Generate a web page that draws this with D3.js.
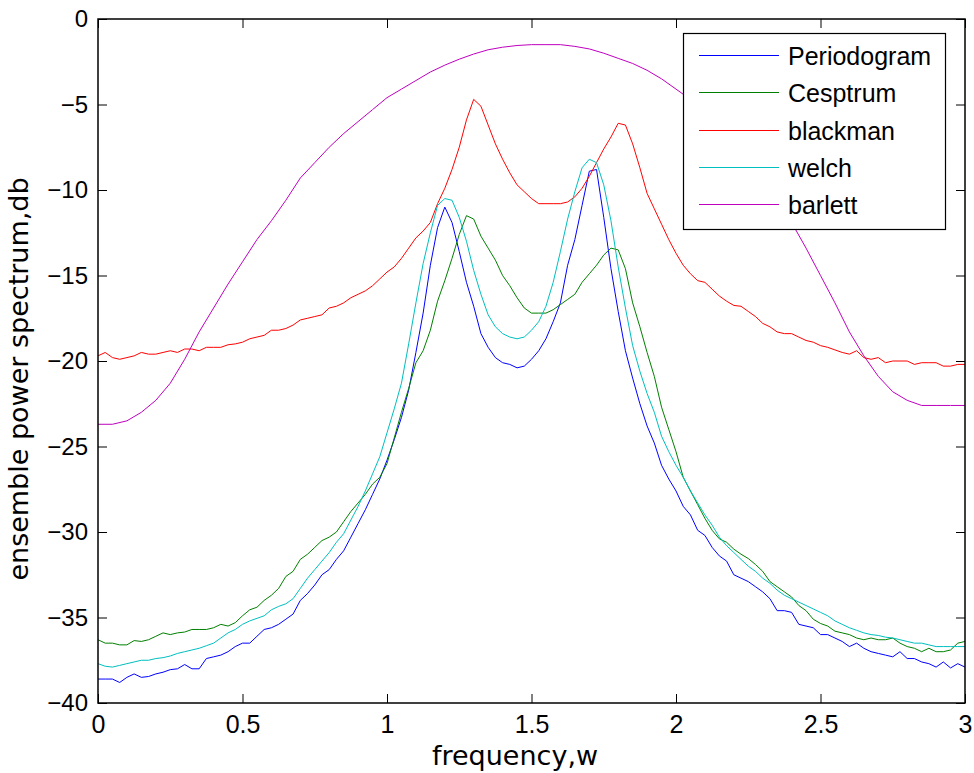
<!DOCTYPE html>
<html>
<head>
<meta charset="utf-8">
<script src="https://cdn.jsdelivr.net/npm/d3@7"></script>
<style>
  html, body { margin: 0; padding: 0; background: #fff; }
  svg { display: block; }
  text { font-family: "Liberation Sans", Arial, Helvetica, sans-serif; fill: #000; }
</style>
</head>
<body>
<div id="chart"></div>
<script>
// ---------------- data ----------------
const freqStep = 0.025;
const freq = d3.range(0, 3 + freqStep / 2, freqStep);          // 121 frequency samples
const freqCoarse = d3.range(0, 3 + 0.05 / 2, 0.05);            // 61 samples for barlett

const periodogram = [
  -38.6,-38.6,-38.6,-38.8,-38.5,-38.3,-38.5,-38.45,-38.3,-38.2,
  -38.05,-38.0,-37.75,-38.0,-38.0,-37.4,-37.3,-37.2,-37.0,-36.7,
  -36.5,-36.5,-36.1,-35.7,-35.6,-35.4,-35.1,-34.8,-34.0,-33.6,
  -33.1,-32.5,-32.2,-31.6,-31.1,-30.3,-29.5,-28.7,-27.8,-26.9,
  -25.8,-24.6,-23.3,-21.7,-19.5,-17.2,-14.4,-12.2,-11.0,-11.9,
  -13.6,-15.4,-16.8,-18.4,-19.2,-19.8,-20.1,-20.2,-20.4,-20.3,
  -19.9,-19.4,-18.7,-17.7,-16.6,-14.4,-12.9,-10.9,-8.9,-8.8,
  -11.6,-14.6,-17.1,-19.4,-21.0,-22.5,-23.8,-24.8,-26.1,-26.9,
  -27.6,-28.5,-29.0,-29.9,-30.2,-30.9,-31.4,-31.7,-32.5,-32.7,
  -32.9,-33.2,-33.5,-33.9,-34.6,-34.6,-34.7,-35.4,-35.5,-35.6,
  -36.0,-36.0,-36.2,-36.4,-36.7,-36.5,-36.8,-37.0,-37.1,-37.2,
  -37.3,-37.0,-37.4,-37.4,-37.6,-37.7,-37.9,-37.6,-37.95,-37.7,
  -37.9
];

const cesptrum = [
  -36.3,-36.5,-36.5,-36.6,-36.6,-36.35,-36.4,-36.3,-36.1,-35.9,
  -36.0,-35.9,-35.85,-35.7,-35.7,-35.7,-35.6,-35.4,-35.5,-35.3,
  -34.9,-34.55,-34.4,-34.0,-33.7,-33.3,-32.6,-32.3,-31.6,-31.3,
  -30.9,-30.5,-30.3,-30.0,-29.4,-28.8,-28.3,-27.8,-27.2,-26.8,
  -26.0,-24.5,-23.0,-21.6,-20.1,-19.4,-18.2,-16.5,-15.3,-14.0,
  -12.6,-11.5,-11.7,-12.7,-13.4,-14.1,-15.0,-15.6,-16.3,-16.9,
  -17.2,-17.2,-17.2,-17.0,-16.7,-16.4,-16.1,-15.4,-14.9,-14.4,
  -13.8,-13.4,-13.5,-14.6,-16.6,-18.0,-19.5,-20.9,-22.7,-24.0,
  -25.3,-26.8,-27.6,-28.4,-29.2,-29.9,-30.4,-30.6,-31.0,-31.3,
  -31.55,-31.9,-32.3,-32.9,-33.2,-33.5,-33.8,-34.3,-34.6,-35.1,
  -35.35,-35.5,-35.8,-35.9,-36.0,-36.2,-36.3,-36.2,-36.3,-36.3,
  -36.2,-36.5,-36.7,-36.8,-37.0,-36.8,-37.0,-37.0,-36.9,-36.5,
  -36.4
];

const blackman = [
  -19.7,-19.5,-19.8,-19.9,-19.8,-19.7,-19.5,-19.6,-19.6,-19.5,
  -19.4,-19.5,-19.3,-19.3,-19.4,-19.2,-19.2,-19.2,-19.05,-19.0,
  -18.9,-18.7,-18.6,-18.5,-18.2,-18.2,-18.1,-17.9,-17.6,-17.5,
  -17.4,-17.3,-16.9,-16.8,-16.6,-16.3,-16.1,-15.9,-15.6,-15.2,
  -14.8,-14.5,-14.0,-13.4,-12.8,-12.4,-11.9,-10.8,-9.9,-8.8,
  -7.5,-5.9,-4.7,-5.1,-6.2,-7.3,-8.2,-9.0,-9.7,-10.1,
  -10.5,-10.8,-10.8,-10.8,-10.8,-10.7,-10.4,-9.9,-9.2,-8.4,
  -7.6,-6.9,-6.1,-6.2,-7.3,-8.7,-10.2,-11.1,-12.0,-12.9,
  -13.7,-14.4,-14.9,-15.3,-15.4,-15.8,-16.2,-16.5,-16.75,-16.8,
  -17.1,-17.4,-17.8,-18.0,-18.3,-18.4,-18.4,-18.6,-18.8,-18.9,
  -19.1,-19.2,-19.35,-19.5,-19.6,-19.4,-19.8,-19.9,-19.8,-20.1,
  -20.0,-20.0,-20.0,-20.2,-20.1,-20.1,-20.1,-20.3,-20.3,-20.2,
  -20.2
];

const welch = [
  -37.7,-37.85,-37.9,-37.8,-37.7,-37.6,-37.5,-37.5,-37.4,-37.35,
  -37.25,-37.1,-37.0,-36.9,-36.8,-36.65,-36.5,-36.2,-35.9,-35.7,
  -35.4,-35.2,-35.05,-34.9,-34.55,-34.35,-34.2,-33.9,-33.3,-32.7,
  -32.2,-31.7,-31.2,-30.6,-30.1,-29.3,-28.5,-27.6,-26.6,-25.6,
  -24.2,-22.8,-21.3,-19.0,-16.6,-14.3,-12.5,-10.9,-10.5,-10.6,
  -11.6,-13.0,-14.7,-16.1,-17.3,-18.0,-18.4,-18.6,-18.7,-18.6,
  -18.2,-17.7,-16.8,-15.4,-13.6,-11.7,-10.1,-8.7,-8.2,-8.4,
  -9.7,-11.8,-14.5,-16.9,-19.1,-20.6,-21.9,-23.0,-24.4,-25.3,
  -26.1,-26.8,-27.6,-28.3,-29.0,-29.6,-30.3,-30.8,-31.2,-31.6,
  -32.0,-32.3,-32.7,-33.0,-33.4,-33.7,-33.9,-34.1,-34.3,-34.5,
  -34.7,-34.9,-35.2,-35.4,-35.6,-35.75,-35.9,-36.0,-36.05,-36.15,
  -36.2,-36.3,-36.4,-36.5,-36.5,-36.6,-36.7,-36.7,-36.7,-36.7,
  -36.7
];

const barlett = [
  -23.7,-23.7,-23.5,-23.0,-22.3,-21.3,-19.9,-18.3,-16.9,-15.5,
  -14.2,-12.9,-11.8,-10.6,-9.3,-8.4,-7.5,-6.7,-6.0,-5.3,
  -4.6,-4.1,-3.6,-3.1,-2.7,-2.35,-2.05,-1.8,-1.65,-1.55,
  -1.5,-1.5,-1.5,-1.6,-1.75,-2.0,-2.3,-2.6,-3.0,-3.5,
  -4.1,-4.7,-5.4,-6.1,-7.0,-8.0,-9.1,-10.4,-11.9,-13.4,
  -15.0,-16.6,-18.3,-19.7,-20.9,-21.8,-22.3,-22.6,-22.6,-22.6,
  -22.6
];

const seriesNames = ["Periodogram", "Cesptrum", "blackman", "welch", "barlett"];
const seriesColors = ["#0000ff", "#008000", "#ff0000", "#00bfbf", "#bf00bf"];

const xTicks = [0, 0.5, 1, 1.5, 2, 2.5, 3];
const yTicks = [0, -5, -10, -15, -20, -25, -30, -35, -40];
const xLabel = "frequency,w";
const yLabel = "ensemble power spectrum,db";

// ---------------- chart ----------------
const W = 974, H = 773;
const M = { left: 98, right: 974 - 965, top: 19, bottom: 773 - 703 };

const svg = d3.select("#chart").append("svg")
  .attr("width", W).attr("height", H);

const x = d3.scaleLinear().domain([0, 3]).range([M.left, W - M.right]);
const y = d3.scaleLinear().domain([-40, 0]).range([H - M.bottom, M.top]);

svg.append("rect").attr("width", W).attr("height", H).attr("fill", "#fff");

const plotData = [
  { name: seriesNames[0], xs: freq, ys: periodogram, color: seriesColors[0] },
  { name: seriesNames[1], xs: freq, ys: cesptrum, color: seriesColors[1] },
  { name: seriesNames[2], xs: freq, ys: blackman, color: seriesColors[2] },
  { name: seriesNames[3], xs: freq, ys: welch, color: seriesColors[3] },
  { name: seriesNames[4], xs: freqCoarse, ys: barlett, color: seriesColors[4] }
];

svg.append("defs").append("clipPath").attr("id", "clip")
  .append("rect")
  .attr("x", M.left).attr("y", M.top)
  .attr("width", W - M.left - M.right).attr("height", H - M.top - M.bottom);

const line = d3.line().x(d => x(d[0])).y(d => y(d[1]));

svg.append("g").attr("clip-path", "url(#clip)")
  .selectAll("path").data(plotData).join("path")
  .attr("d", s => line(s.xs.map((v, i) => [v, s.ys[i]])))
  .attr("fill", "none")
  .attr("stroke", s => s.color)
  .attr("stroke-width", 1)
  .attr("stroke-linejoin", "round");

// axes (ticks pointing inward, MATLAB box style)
const tickLen = 9;
const fmt = d => d3.format("")(d);

const gx = svg.append("g").attr("transform", `translate(0,${H - M.bottom})`)
  .call(d3.axisBottom(x).tickValues(xTicks).tickSizeInner(-tickLen).tickSizeOuter(0)
    .tickPadding(12).tickFormat(fmt));
gx.selectAll("text").style("font-size", "25px").attr("dy", "0.71em");

const gxTop = svg.append("g").attr("transform", `translate(0,${M.top})`)
  .call(d3.axisTop(x).tickValues(xTicks).tickSizeInner(-tickLen).tickSizeOuter(0).tickFormat(""));

const gy = svg.append("g").attr("transform", `translate(${M.left},0)`)
  .call(d3.axisLeft(y).tickValues(yTicks).tickSizeInner(-tickLen).tickSizeOuter(0)
    .tickPadding(10).tickFormat(fmt));
gy.selectAll("text").style("font-size", "24px");

const gyRight = svg.append("g").attr("transform", `translate(${W - M.right},0)`)
  .call(d3.axisRight(y).tickValues(yTicks).tickSizeInner(-tickLen).tickSizeOuter(0).tickFormat(""));

[gx, gxTop, gy, gyRight].forEach(g => {
  g.select(".domain").remove();
  g.selectAll("line").attr("stroke", "#000").attr("stroke-width", 1);
  g.selectAll("text").attr("fill", "#000").style("font-family", '"Liberation Sans", Arial, sans-serif');
});

// box
svg.append("rect")
  .attr("x", M.left).attr("y", M.top)
  .attr("width", W - M.left - M.right).attr("height", H - M.top - M.bottom)
  .attr("fill", "none").attr("stroke", "#000").attr("stroke-width", 1.5);

// axis labels
const labelFont = '"DejaVu Sans", "Liberation Sans", Arial, sans-serif';
svg.append("text")
  .attr("x", 515).attr("y", 765)
  .attr("text-anchor", "middle").style("font-family", labelFont).style("font-size", "27px").text(xLabel);

svg.append("text")
  .attr("transform", `translate(28,379) rotate(-90)`)
  .attr("text-anchor", "middle").style("font-family", labelFont).style("font-size", "27px").text(yLabel);

// legend
const lg = svg.append("g");
const lgX = 683.5, lgY = 33.5, lgW = 262, lgH = 196;
lg.append("rect").attr("x", lgX).attr("y", lgY).attr("width", lgW).attr("height", lgH)
  .attr("fill", "#fff").attr("stroke", "#000").attr("stroke-width", 1.2);
const rowY = d3.scaleLinear().domain([0, 4]).range([55, 204]);
plotData.forEach((s, i) => {
  const ry = Math.round(rowY(i)) + 0.5;
  lg.append("line").attr("x1", 699).attr("x2", 779)
    .attr("y1", ry).attr("y2", ry)
    .attr("stroke", s.color).attr("stroke-width", 1);
  lg.append("text").attr("x", 788).attr("y", ry).attr("dy", "0.36em")
    .style("font-size", "25px").text(s.name);
});
</script>
</body>
</html>
